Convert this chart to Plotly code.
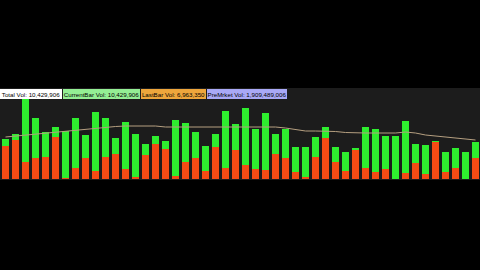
import plotly.graph_objects as go

# Volume per bar (units of 10K shares)
sell_vol = [33, 39, 17, 21, 22, 42, 1, 11, 21, 8, 22, 25, 10, 2, 24, 35,
            30, 3, 17, 21, 8, 32, 11, 29, 14, 10, 9, 25, 21, 7, 2, 22,
            41, 17, 8, 29, 11, 7, 10, 0, 6, 16, 5, 37, 7, 11, 0, 21]
buy_vol = [7, 6, 66, 40, 25, 10, 47, 50, 23, 59, 39, 16, 47, 43, 11, 8,
           8, 56, 39, 26, 25, 13, 57, 26, 57, 40, 57, 20, 29, 25, 30, 20,
           11, 15, 19, 2, 41, 43, 33, 43, 52, 19, 29, 1, 20, 20, 27, 16]
avg_vol = [42, 43, 44, 45, 46, 47, 48, 49, 50, 51, 52, 52.5, 53, 53, 53, 53,
           52, 52, 52, 52, 52, 52, 52, 52, 52, 52, 52.5, 52, 51, 49.5, 48, 48,
           48, 47.5, 46.5, 46, 46, 46, 46, 46, 47, 46, 44, 43, 42, 41, 40, 39]
bars = list(range(len(sell_vol)))

labels = ["Total Vol: 10,429,906", "CurrentBar Vol: 10,429,906",
          "LastBar Vol: 6,963,350", "PreMrket Vol: 1,909,489,006"]
label_colors = ["#ffffff", "#94ee94", "#eea63c", "#a9a9f6"]
label_left = [0, 63, 141, 207]
label_width = [62, 77, 65, 80]

fig = go.Figure()
fig.add_trace(go.Bar(x=bars, y=sell_vol, marker_color="#f44b14",
                     marker_line_width=0, width=0.75))
fig.add_trace(go.Bar(x=bars, y=buy_vol, marker_color="#2eee2e",
                     marker_line_width=0, width=0.75))
fig.add_trace(go.Scatter(x=bars, y=avg_vol, mode="lines",
                         line=dict(color="#b59f80", width=1)))

for txt, col, left, w in zip(labels, label_colors, label_left, label_width):
    fig.add_annotation(x=left / 480, y=1 - 1 / 92, xref="paper", yref="paper",
                       xanchor="left", yanchor="top", text=txt, showarrow=False,
                       bgcolor=col, width=w, height=10, align="center",
                       borderpad=0, borderwidth=0,
                       font=dict(family="Liberation Sans, Arial, sans-serif",
                                 size=6.2, color="#000000"))

fig.update_layout(
    width=480, height=270, barmode="stack", bargap=0,
    margin=dict(l=0, r=0, t=88, b=90, pad=0),
    paper_bgcolor="#000000", plot_bgcolor="#1c1c1c",
    showlegend=False,
    xaxis=dict(range=[-0.55, 47.45], visible=False, fixedrange=True),
    yaxis=dict(range=[-1, 91], visible=False, fixedrange=True),
)
fig.write_html("out.html")
